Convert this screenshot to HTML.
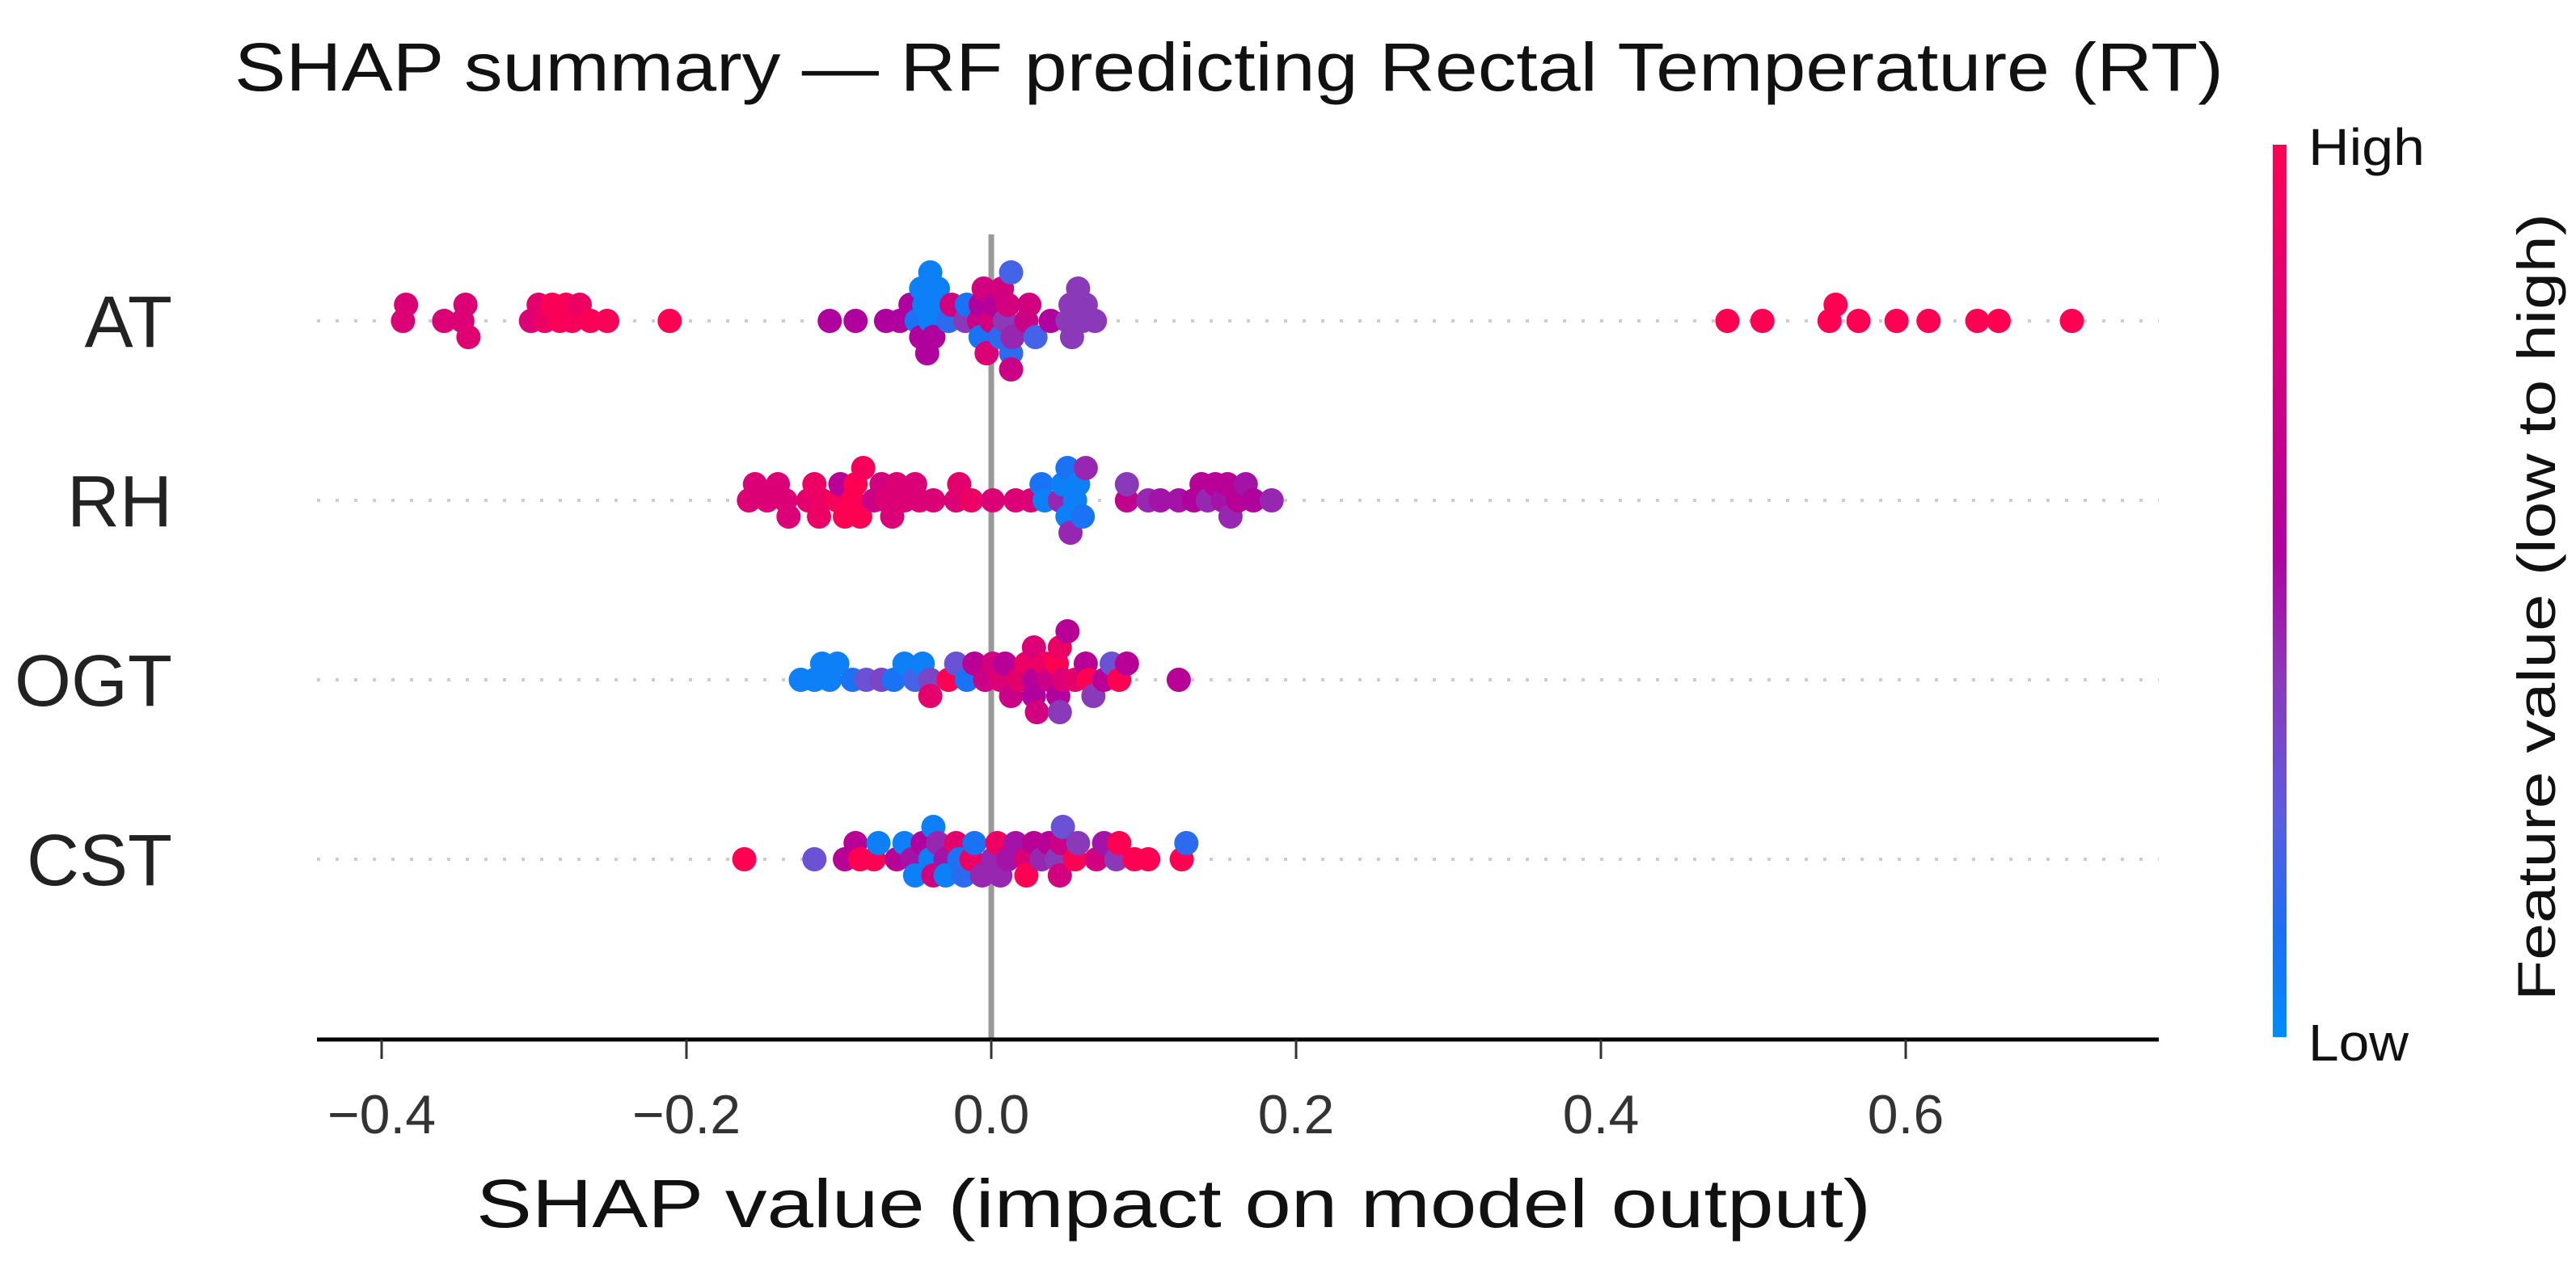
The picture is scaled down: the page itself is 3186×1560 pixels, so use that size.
<!DOCTYPE html>
<html><head><meta charset="utf-8"><style>
html,body{margin:0;padding:0;background:#fff;}
svg{display:block;font-family:"Liberation Sans",Arial,sans-serif;}
</style></head><body>
<svg id="chart" width="3186" height="1560" viewBox="0 0 3186 1560" xmlns="http://www.w3.org/2000/svg">
<defs><linearGradient id="cbar" x1="0" y1="1" x2="0" y2="0">
<stop offset="0" stop-color="#008bfb"/><stop offset="0.12" stop-color="#1e6ef2"/><stop offset="0.25" stop-color="#5c5ce0"/><stop offset="0.4" stop-color="#8a3ab9"/><stop offset="0.55" stop-color="#b0009e"/><stop offset="0.75" stop-color="#d2007e"/><stop offset="1" stop-color="#ff0052"/>
</linearGradient></defs>
<text x="290" y="112" font-size="84" textLength="2460" lengthAdjust="spacingAndGlyphs" fill="#111">SHAP summary — RF predicting Rectal Temperature (RT)</text>
<g id="rows"></g>
<line x1="1226" y1="290" x2="1226" y2="1286" stroke="#999" stroke-width="7"/>
<g id="dots"></g>
<line x1="392" y1="1286" x2="2670" y2="1286" stroke="#000" stroke-width="5"/>
<g id="ticks"></g>
<text x="589" y="1518" font-size="84" textLength="1725" lengthAdjust="spacingAndGlyphs" fill="#111">SHAP value (impact on model output)</text>
<rect x="2811" y="179" width="17" height="1104" fill="url(#cbar)"/>
<text x="2855" y="204" font-size="64" textLength="144" lengthAdjust="spacingAndGlyphs" fill="#111">High</text>
<text x="2855" y="1312" font-size="64" textLength="124" lengthAdjust="spacingAndGlyphs" fill="#111">Low</text>
<text transform="translate(3160,751) rotate(-90)" text-anchor="middle" font-size="66" textLength="974" lengthAdjust="spacingAndGlyphs" fill="#111">Feature value (low to high)</text>
</svg>
<script>
const features = ["AT","RH","OGT","CST"];
const tickValues = [-0.4,-0.2,0.0,0.2,0.4,0.6];
const tickLabels = ["\u22120.4","\u22120.2","0.0","0.2","0.4","0.6"];
const shapAT = [-0.386,-0.384,-0.359,-0.347,-0.345,-0.343,-0.302,-0.297,-0.293,-0.288,-0.283,-0.279,-0.275,-0.27,-0.263,-0.252,-0.211,
-0.106,-0.089,-0.069,-0.06,-0.053,-0.046,-0.042,-0.040,-0.035,-0.044,-0.049,-0.046,-0.04,-0.038,-0.035,-0.026,-0.028,-0.017,-0.016,-0.007,-0.008,-0.005,-0.003,-0.007,0.0,0.002,0.006,0.007,0.011,0.013,0.009,0.013,0.014,0.013,0.025,0.023,0.029,0.039,0.05,0.053,0.057,0.06,0.068,0.052,0.062,
0.483,0.506,0.550,0.554,0.569,0.594,0.615,0.647,0.661,0.709];
const featAT = [0.8,0.8,0.8,0.8,0.8,0.82,0.8,0.85,0.9,0.97,0.97,0.97,0.95,0.9,0.97,0.97,1,
0.55,0.55,0.55,0.55,0.55,0.55,0.55,0.05,0.05,0.05,0.1,0.05,0.05,0.55,0.05,0.75,0.15,0.4,0.1,0.55,0.7,0.75,0.8,0.1,0.75,0.6,0.15,0.75,0.75,0.15,0.4,0.2,0.45,0.7,0.75,0.7,0.2,0.55,0.4,0.4,0.4,0.4,0.4,0.4,0.4,
1,1,1,1,1,1,1,1,1,1];
const shapRH = [-0.159,-0.155,-0.147,-0.14,-0.135,-0.133,-0.12,-0.116,-0.113,-0.111,-0.101,-0.099,-0.096,-0.091,-0.089,-0.086,-0.084,-0.077,-0.072,-0.069,-0.065,-0.062,-0.057,-0.05,-0.047,-0.038,-0.023,-0.021,-0.013,0.001,0.016,0.026,
0.033,0.035,0.045,0.05,0.055,0.06,0.062,0.05,0.057,0.052,0.047,
0.089,0.089,0.103,0.111,0.123,0.133,0.138,0.142,0.147,0.152,0.155,0.157,0.162,0.167,0.172,0.184];
const featRH = [0.8,0.8,0.8,0.8,0.8,0.8,0.85,0.9,0.9,0.9,0.95,0.6,1,1,1,1,0.95,0.7,0.75,0.8,0.8,0.8,0.8,0.8,0.8,0.8,0.8,0.85,0.9,0.8,0.8,0.8,
0.1,0.05,0.45,0.05,0.05,0.1,0.45,0.1,0.05,0.45,0.05,
0.65,0.4,0.45,0.5,0.5,0.55,0.6,0.45,0.6,0.5,0.6,0.45,0.6,0.5,0.55,0.45];
const shapOGT = [-0.125,-0.116,-0.111,-0.106,-0.101,-0.091,-0.082,-0.072,-0.064,-0.057,-0.05,-0.045,-0.04,-0.04,-0.028,-0.023,-0.016,-0.011,-0.004,0.001,0.006,0.009,0.013,0.018,0.023,0.028,0.028,0.028,0.03,0.035,0.038,0.043,0.044,0.045,0.045,0.047,0.05,0.055,0.062,0.064,0.067,0.074,0.079,0.084,0.089,0.123];
const featOGT = [0.05,0.05,0.05,0.05,0.05,0.1,0.3,0.35,0.1,0.05,0.2,0.05,0.35,0.85,1,0.3,0.1,0.6,0.7,0.75,0.8,0.6,0.7,0.85,0.9,0.6,0.55,0.8,0.75,0.9,0.7,1,0.55,0.9,0.4,0.8,0.6,0.85,0.6,1,0.4,0.6,0.3,1,0.6,0.6];
const shapCST = [-0.162,-0.116,-0.096,-0.089,-0.086,-0.077,-0.074,-0.062,-0.057,-0.052,-0.05,-0.045,-0.04,-0.038,-0.038,-0.035,-0.03,-0.03,-0.023,-0.021,-0.018,-0.013,-0.011,-0.006,0.001,0.004,0.006,0.011,0.016,0.023,0.023,0.028,0.033,0.038,0.043,0.045,0.046,0.047,0.055,0.057,0.069,0.074,0.082,0.084,0.094,0.103,0.125,0.128];
const featCST = [1,0.3,0.6,0.6,1,1,0.05,0.6,0.05,0.5,0.05,0.55,0.05,0.75,0.05,0.45,0.5,0.05,0.85,0.1,0.15,0.9,0.1,0.45,0.45,0.9,0.45,0.5,0.5,0.8,1,0.6,0.45,0.6,0.4,0.75,0.7,0.3,1,0.4,0.75,0.5,0.4,1,1,1,1,0.15];

const NS = "http://www.w3.org/2000/svg";
const X0 = 1226, UNIT = 1885, ROW0 = 397, ROWSTEP = 222, R = 15, LAYER = 20, MINDX = 14;
function xScale(v){ return X0 + v*UNIT; }
function yRow(i){ return ROW0 + i*ROWSTEP; }
const stops = [[0,[0,139,251]],[0.12,[30,110,242]],[0.25,[92,92,224]],[0.4,[138,58,185]],[0.55,[176,0,158]],[0.75,[210,0,126]],[1,[255,0,82]]];
function colorOf(t){
  for(let i=1;i<stops.length;i++){
    if(t<=stops[i][0]){
      const a=stops[i-1], b=stops[i], f=(t-a[0])/(b[0]-a[0]);
      const c=a[1].map((v,k)=>Math.round(v+(b[1][k]-v)*f));
      return "rgb("+c.join(",")+")";
    }
  }
  return "rgb(255,0,82)";
}
const rowsG = document.getElementById("rows");
const dotsG = document.getElementById("dots");
const ticksG = document.getElementById("ticks");
const svg = document.getElementById("chart");
const series = [[shapAT,featAT],[shapRH,featRH],[shapOGT,featOGT],[shapCST,featCST]];
features.forEach(function(name,i){
  const y = yRow(i);
  const ln = document.createElementNS(NS,"line");
  
  
  ln.setAttribute("x1",392); ln.setAttribute("x2",2670);
  ln.setAttribute("y1",y); ln.setAttribute("y2",y);
  ln.setAttribute("stroke","#cccccc"); ln.setAttribute("stroke-width","4");
  ln.setAttribute("stroke-dasharray","4 19");
  rowsG.appendChild(ln);
  const lab = document.createElementNS(NS,"text");
  
  
  lab.setAttribute("x",213); lab.setAttribute("y",y+32);
  lab.setAttribute("text-anchor","end"); lab.setAttribute("font-size","90"); lab.setAttribute("fill","#222");
  lab.textContent = name;
  svg.appendChild(lab);
  const vals = series[i][0], feats = series[i][1];
  const idx = vals.map((v,k)=>k).sort((a,b)=>vals[a]-vals[b]);
  const placed = {};
  idx.forEach(function(k){
    const px = xScale(vals[k]);
    let layer = 0, off = 0;
    for(let n=0;n<40;n++){
      off = n===0 ? 0 : (n%2===1 ? -Math.ceil(n/2) : Math.ceil(n/2));
      const arr = placed[off] || [];
      if(!arr.some(q=>Math.abs(q-px)<MINDX)){ layer = off; break; }
    }
    (placed[layer] = placed[layer] || []).push(px);
    const c = document.createElementNS(NS,"circle");
    
    
    c.setAttribute("cx",px.toFixed(1));
    c.setAttribute("cy",(y + layer*LAYER).toFixed(1));
    c.setAttribute("r",R);
    c.setAttribute("fill",colorOf(feats[k]));
    dotsG.appendChild(c);
  });
});
tickValues.forEach(function(v,i){
  const x = xScale(v);
  const t = document.createElementNS(NS,"line");
  
  
  t.setAttribute("x1",x); t.setAttribute("x2",x); t.setAttribute("y1",1286); t.setAttribute("y2",1310);
  t.setAttribute("stroke","#333"); t.setAttribute("stroke-width","3");
  ticksG.appendChild(t);
  const tl = document.createElementNS(NS,"text");
  
  
  tl.setAttribute("x",x); tl.setAttribute("y",1402);
  tl.setAttribute("text-anchor","middle"); tl.setAttribute("font-size","68"); tl.setAttribute("fill","#333");
  tl.textContent = tickLabels[i];
  ticksG.appendChild(tl);
});
</script>
</body></html>
